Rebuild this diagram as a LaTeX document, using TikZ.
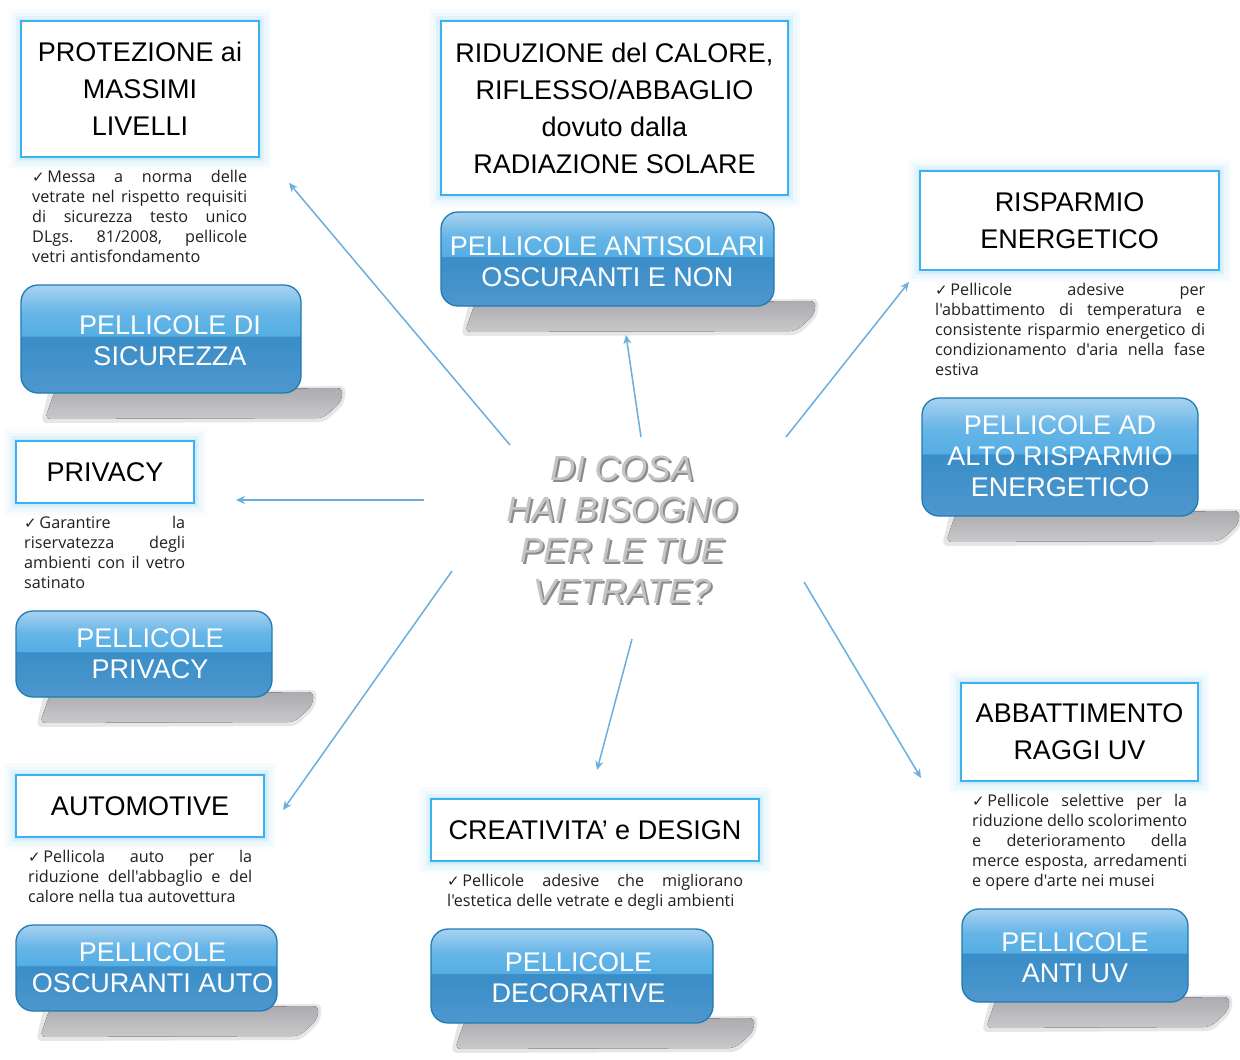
\documentclass[tikz,border=0pt]{standalone}
\usepackage{fontspec}
\setmainfont{Liberation Sans}
\newfontfamily\descfont{Open Sans}
\newfontfamily\symfont{DejaVu Sans}
\usetikzlibrary{arrows.meta}
\definecolor{boxedge}{HTML}{3BB2EE}
\definecolor{glowc}{HTML}{A9DFF8}
\definecolor{btnedge}{HTML}{1F7CB2}
\definecolor{arrowc}{HTML}{6AAFDE}
\definecolor{desctext}{HTML}{202020}
\definecolor{ctrfill}{HTML}{C4C4C4}
\definecolor{ctrshadow}{HTML}{707070}
\definecolor{shadc}{HTML}{ACACB0}
\definecolor{bB}{HTML}{4E97CE}
\definecolor{bM1}{HTML}{3A8DC7}
\definecolor{bM2}{HTML}{55AEE3}
\definecolor{bT2}{HTML}{66B5E7}
\definecolor{bT}{HTML}{A8D2F0}
\pgfdeclareverticalshading{glossy}{100bp}{color(0bp)=(bB); color(25bp)=(bB); color(51bp)=(bM1); color(51.6bp)=(bM2); color(62bp)=(bT2); color(75bp)=(bT); color(100bp)=(bT)}
\newcommand\chk{{\symfont\fontsize{15}{20}\selectfont ✓}\,}
\newcommand\btnshadow[3]{%
  \fill[shadc!30, rounded corners=6pt] (#1+28,#3-4) -- (#2+45,#3-7) -- (#2+43,#3+11) -- (#2+24,#3+29) -- (#1+20,#3+30) -- cycle;
  \fill[shade, top color=shadc, bottom color=shadc!65, rounded corners=6pt] (#1+34,#3-3) -- (#2+42,#3-5) -- (#2+40,#3+9) -- (#2+22,#3+25) -- (#1+24,#3+26) -- cycle;}
\tikzset{
  hbox/.style={draw=boxedge, line width=2pt, fill=white,
    preaction={draw=glowc, line width=24pt, opacity=0.07},
    preaction={draw=glowc, line width=17pt, opacity=0.12},
    preaction={draw=glowc, line width=10pt, opacity=0.2},
    preaction={draw=glowc, line width=5pt, opacity=0.3},
    align=center, font=\fontsize{27}{37}\selectfont, inner sep=0},
  btn/.style={draw=btnedge, line width=1.3pt, rounded corners=17pt, shade, shading=glossy, inner sep=0},
  btntext/.style={text=white, align=center, font=\fontsize{27}{31}\selectfont, inner sep=0},
  desc/.style={font=\descfont\fontsize{16.2}{20}\selectfont, text=desctext, align=justify, inner sep=0, anchor=north west},
  arr/.style={draw=arrowc, line width=1.5pt, -{Stealth[length=9pt, width=8pt]}},
  ctr/.style={align=center, font=\itshape\fontsize{35}{41}\selectfont, inner sep=0}
}
\begin{document}
\begin{tikzpicture}[x=1pt, y=-1pt]
\useasboundingbox (0,0) rectangle (1240,1060);
\fill[white] (0,0) rectangle (1240,1060);

% headline boxes
\node[hbox, minimum width=238, minimum height=136] (b1) at (140,89) {PROTEZIONE ai\\MASSIMI\\LIVELLI};
\node[hbox, minimum width=347, minimum height=174] (b2) at (614.5,108) {RIDUZIONE del CALORE,\\RIFLESSO/ABBAGLIO\\dovuto dalla\\RADIAZIONE SOLARE};
\node[hbox, minimum width=299, minimum height=99] (b3) at (1069.5,220.5) {RISPARMIO\\ENERGETICO};
\node[hbox, minimum width=178, minimum height=62] (b4) at (105,472) {PRIVACY};
\node[hbox, minimum width=248, minimum height=62] (b5) at (140,806) {AUTOMOTIVE};
\node[hbox, minimum width=328, minimum height=62] (b6) at (595,830) {CREATIVITA' e DESIGN};
\node[hbox, minimum width=237, minimum height=98] (b7) at (1079.5,732) {ABBATTIMENTO\\RAGGI UV};

% descriptions
\node[desc, text width=215] (d1) at (32,170) {\chk Messa~a~norma~delle\linebreak vetrate~nel~rispetto~requisiti\linebreak di~sicurezza~testo~unico\linebreak DLgs.~81/2008,~pellicole\linebreak vetri~antisfondamento};
\node[desc, text width=270] (d3) at (935,283) {\chk Pellicole~adesive~per\linebreak l'abbattimento~di~temperatura~e\linebreak consistente~risparmio~energetico~di\linebreak condizionamento~d'aria~nella~fase\linebreak estiva};
\node[desc, text width=161] (d4) at (24,516) {\chk Garantire~la\linebreak riservatezza~degli\linebreak ambienti~con~il~vetro\linebreak satinato};
\node[desc, text width=224] (d5) at (28,850) {\chk Pellicola~auto~per~la\linebreak riduzione~dell'abbaglio~e~del\linebreak calore~nella~tua~autovettura};
\node[desc, text width=296] (d6) at (447,874) {\chk Pellicole~adesive~che~migliorano\linebreak l'estetica~delle~vetrate~e~degli~ambienti};
\node[desc, text width=215] (d7) at (972,794) {\chk Pellicole~selettive~per~la\linebreak riduzione~dello~scolorimento\linebreak e~deterioramento~della\linebreak merce~esposta,~arredamenti\linebreak e~opere~d'arte~nei~musei};

% button shadows
\btnshadow{21}{301}{393}
\btnshadow{441}{774}{306}
\btnshadow{922}{1198}{516}
\btnshadow{16}{272}{697}
\btnshadow{16}{277}{1011}
\btnshadow{431}{713}{1023}
\btnshadow{962}{1188}{1002}

% buttons
\node[btn, minimum width=280, minimum height=108] (p1) at (161,339) {};
\node[btntext] (p1t) at (170,340.5) {PELLICOLE DI\\SICUREZZA};
\node[btn, minimum width=333, minimum height=94] (p2) at (607.5,259) {};
\node[btntext] (p2t) at (607.5,261.5) {PELLICOLE ANTISOLARI\\OSCURANTI E NON};
\node[btn, minimum width=276, minimum height=118] (p3) at (1060,457) {};
\node[btntext] (p3t) at (1060,456) {PELLICOLE AD\\ALTO RISPARMIO\\ENERGETICO};
\node[btn, minimum width=256, minimum height=86] (p4) at (144,654) {};
\node[btntext] (p4t) at (150,653.5) {PELLICOLE\\PRIVACY};
\node[btn, minimum width=261, minimum height=86] (p5) at (146.5,968) {};
\node[btntext] (p5t) at (152.5,967.5) {PELLICOLE\\OSCURANTI AUTO};
\node[btn, minimum width=282, minimum height=94] (p6) at (572,976) {};
\node[btntext] (p6t) at (578.5,977.5) {PELLICOLE\\DECORATIVE};
\node[btn, minimum width=226, minimum height=93] (p7) at (1075,955.5) {};
\node[btntext] (p7t) at (1075,957.5) {PELLICOLE\\ANTI UV};

% central question (drop shadow + face)
\node[ctr, text=ctrshadow, opacity=0.8] (cqs) at (624,532) {DI COSA\\HAI BISOGNO\\PER LE TUE\\VETRATE?};
\node[ctr, text=ctrfill] (cq) at (622,530) {DI COSA\\HAI BISOGNO\\PER LE TUE\\VETRATE?};

% arrow coordinates
\coordinate (s1) at (510,445); \coordinate (e1) at (289,183);
\coordinate (s2) at (641,437); \coordinate (e2) at (626,335);
\coordinate (s3) at (786,437); \coordinate (e3) at (909,282);
\coordinate (s4) at (424,500); \coordinate (e4) at (236,500);
\coordinate (s5) at (452,571); \coordinate (e5) at (283,810);
\coordinate (s6) at (632,639); \coordinate (e6) at (597,770);
\coordinate (s7) at (804,582); \coordinate (e7) at (921,778);
\foreach \i in {1,...,7} {\draw[arr] (s\i) -- (e\i);}
\end{tikzpicture}
\end{document}
